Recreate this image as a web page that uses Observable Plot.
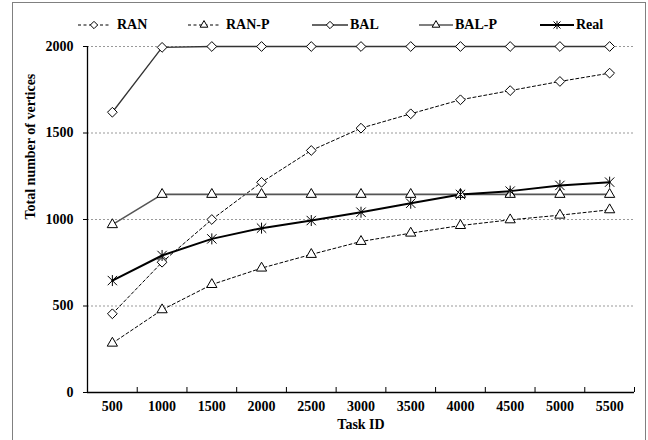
<!DOCTYPE html>
<html>
<head>
<meta charset="utf-8">
<script src="https://cdn.jsdelivr.net/npm/d3@7"></script>
<script src="https://cdn.jsdelivr.net/npm/@observablehq/plot@0.6"></script>
<style>
  html, body { margin: 0; padding: 0; background: #fff; width: 648px; height: 440px; overflow: hidden; }
  #frame { position: absolute; left: 12px; top: 2px; width: 634px; height: 450px; border: 1.5px solid #808080; box-sizing: border-box; }
  #legend { position: absolute; left: 0; top: 0; width: 648px; height: 30px; font-family: "Liberation Serif", serif; font-weight: bold; font-size: 14px; color: #000; }
  .li { position: absolute; top: 17px; height: 16px; line-height: 16px; white-space: nowrap; }
  .li svg { position: absolute; top: 0; }
  .li span { position: absolute; top: 0; }
  #chart { position: absolute; left: 0; top: 30px; }
  #chart svg text { font-family: "Liberation Serif", serif !important; }
</style>
</head>
<body>
<div id="frame"></div>
<div id="legend"></div>
<div id="chart"></div>
<script>
// ---- data ----
const tasks  = [500, 1000, 1500, 2000, 2500, 3000, 3500, 4000, 4500, 5000, 5500];
const ran    = [455, 753, 1000, 1215, 1399, 1528, 1611, 1692, 1745, 1798, 1846];
const ranP   = [285, 478, 624, 719, 798, 873, 921, 965, 998, 1025, 1056];
const bal    = [1620, 1995, 2000, 2000, 2000, 2000, 2000, 2000, 2000, 2000, 2000];
const balP   = [970, 1145, 1145, 1145, 1145, 1145, 1145, 1145, 1145, 1145, 1145];
const real   = [647, 792, 888, 950, 994, 1042, 1094, 1145, 1164, 1197, 1216];
const seriesNames = ["RAN", "RAN-P", "BAL", "BAL-P", "Real"];
const yTicks = [0, 500, 1000, 1500, 2000];
const xLabel = "Task ID";
const yLabel = "Total number of vertices";

// ---- styling ----
const star = {
  draw(ctx, size) {
    const r = Math.sqrt(size / Math.PI);
    const d = r * 0.85;
    ctx.moveTo(0, -r); ctx.lineTo(0, r);
    ctx.moveTo(-d, -d); ctx.lineTo(d, d);
    ctx.moveTo(-d, d); ctx.lineTo(d, -d);
  }
};
const styles = {
  "RAN":   {values: ran,  stroke: "#000", width: 1,   dash: "3,2.5", symbol: "diamond2", r: 4.4, fill: "white"},
  "RAN-P": {values: ranP, stroke: "#000", width: 1,   dash: "3,2.5", symbol: "triangle", r: 3.8, fill: "white"},
  "BAL":   {values: bal,  stroke: "#333", width: 1.3, dash: null,    symbol: "diamond2", r: 4.4, fill: "white"},
  "BAL-P": {values: balP, stroke: "#555", width: 1.6, dash: null,    symbol: "triangle", r: 3.8, fill: "white"},
  "Real":  {values: real, stroke: "#000", width: 2,   dash: null,    symbol: star,       r: 5.5, fill: "none"}
};

const font = "'Liberation Serif', serif";
const boundaries = d3.range(250, 5751, 500);

const marks = [
  Plot.gridY(yTicks, {stroke: "#999", strokeOpacity: 1, strokeDasharray: "2,2"}),
  Plot.axisY({ticks: yTicks, tickSize: 4, tickPadding: 10, label: null, fontSize: 14, fontWeight: "bold", tickFormat: d => String(d)}),
  Plot.axisX({ticks: tasks, tickSize: 0, tickPadding: 9, label: null, fontSize: 14, fontWeight: "bold", tickFormat: d => String(d)}),
  Plot.axisX({ticks: boundaries, tickSize: -5, label: null, tickFormat: () => ""}),
  Plot.ruleX([250], {stroke: "#000", strokeWidth: 1.3}),
  Plot.ruleY([0], {stroke: "#000", strokeWidth: 1.3}),
  Plot.text([yLabel], {frameAnchor: "left", dx: -57, rotate: -90, text: d => d, fontSize: 14, fontWeight: "bold", fill: "#000"}),
  Plot.text([xLabel], {frameAnchor: "bottom", dy: 36, text: d => d, fontSize: 14, fontWeight: "bold", fill: "#000"})
];

for (const name of seriesNames) {
  const s = styles[name];
  const rows = tasks.map((t, i) => ({task: t, value: s.values[i]}));
  marks.push(Plot.line(rows, {x: "task", y: "value", stroke: s.stroke, strokeWidth: s.width, strokeDasharray: s.dash}));
}
for (const name of seriesNames) {
  const s = styles[name];
  const rows = tasks.map((t, i) => ({task: t, value: s.values[i]}));
  marks.push(Plot.dot(rows, {x: "task", y: "value", symbol: s.symbol, r: s.r, fill: s.fill, stroke: "#000", strokeWidth: 1}));
}

const chart = Plot.plot({
  width: 648,
  height: 410,
  marginLeft: 87,
  marginRight: 14,
  marginTop: 16,
  marginBottom: 48,
  style: {fontFamily: font, fontSize: "14px", fontWeight: "bold", color: "#000", background: "transparent", overflow: "visible"},
  x: {type: "linear", domain: [250, 5750]},
  y: {domain: [0, 2000]},
  marks
});
document.getElementById("chart").appendChild(chart);

// ---- legend ----
const legendPos = {
  "RAN":   {x: 78,  w: 32, tx: 117},
  "RAN-P": {x: 188, w: 32, tx: 226},
  "BAL":   {x: 312, w: 36, tx: 350},
  "BAL-P": {x: 419, w: 34, tx: 455},
  "Real":  {x: 540, w: 34, tx: 576}
};
const leg = d3.select("#legend");
for (const name of seriesNames) {
  const s = styles[name], p = legendPos[name];
  const item = leg.append("div").attr("class", "li").style("left", "0px");
  const svg = item.append("svg").attr("width", p.w).attr("height", 16).style("left", p.x + "px");
  svg.append("line").attr("x1", 0).attr("x2", p.w).attr("y1", 8).attr("y2", 8)
    .attr("stroke", s.stroke).attr("stroke-width", s.width).attr("stroke-dasharray", s.dash);
  const symType = typeof s.symbol === "string" ? (s.symbol === "diamond2" ? d3.symbolDiamond2 : d3.symbolTriangle) : s.symbol;
  const lr = s.r * 0.75;
  svg.append("path").attr("transform", `translate(${p.w / 2},8)`)
    .attr("d", d3.symbol(symType, lr * lr * Math.PI)())
    .attr("fill", s.fill).attr("stroke", "#000").attr("stroke-width", 1);
  item.append("span").style("left", p.tx + "px").text(name);
}
</script>
</body>
</html>
